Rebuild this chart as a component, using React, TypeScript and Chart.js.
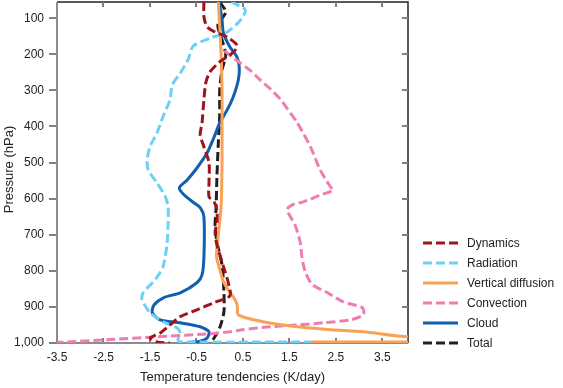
import React, { useEffect, useRef } from 'react';
import { Chart, registerables } from 'chart.js';

Chart.register(...registerables);

const FONT = '"Liberation Sans", Arial, Helvetica, sans-serif';

const xTickValues = [-3.5, -2.5, -1.5, -0.5, 0.5, 1.5, 2.5, 3.5];
const pTickValues = [100, 200, 300, 400, 500, 600, 700, 800, 900, 1000];

const seriesNames = ['Dynamics', 'Radiation', 'Vertical diffusion', 'Convection', 'Cloud', 'Total'];

const dynamicsX = [-0.34, -0.34, -0.27, -0.1, 0.16, 0.35, 0.37, 0.22, 0.0, -0.21, -0.3, -0.34, -0.38, -0.42, -0.34, -0.23, -0.23, -0.23, -0.12, -0.06, -0.06, -0.1, -0.06, 0.09, 0.18, 0.22, -0.12, -0.49, -0.85, -1.07, -1.28, -1.5, -1.35, -1.07];
const dynamicsP = [55, 96, 124, 138, 152, 171, 182, 202, 221, 249, 279, 326, 390, 423, 456, 501, 556, 595, 609, 631, 667, 692, 728, 792, 831, 869, 888, 908, 927, 950, 972, 986, 997, 1000];

const radiationX = [0.25, 0.55, 0.45, 0.16, -0.2, -0.57, -0.68, -0.85, -1.02, -1.07, -1.22, -1.35, -1.5, -1.56, -1.54, -1.35, -1.17, -1.11, -1.11, -1.13, -1.22, -1.39, -1.65, -1.67, -1.5, -1.22, -0.92, -0.85, -0.9, -0.85, 1.95];
const radiationP = [55, 77, 105, 138, 155, 177, 215, 252, 285, 326, 373, 418, 456, 492, 520, 556, 595, 623, 667, 722, 789, 825, 861, 880, 916, 941, 958, 972, 991, 997, 997];

const diffusionX = [-0.03, -0.01, 0.03, 0.05, 0.05, 0.05, 0.03, -0.03, -0.07, 0.0, 0.08, 0.18, 0.33, 0.38, 0.4, 0.93, 1.67, 2.38, 3.09, 4.06, 6, null, 6, 1.95];
const diffusionP = [55, 100, 200, 300, 400, 500, 620, 700, 760, 795, 830, 852, 880, 897, 922, 941, 955, 963, 969, 983, 990, null, 997, 997];

const convectionX = [0.1, 0.44, 0.66, 0.87, 1.09, 1.3, 1.47, 1.67, 1.95, 2.16, 2.38, 2.44, 2.16, 1.8, 1.56, 1.45, 1.62, 1.73, 1.77, 1.84, 1.99, 2.31, 2.66, 3.07, 3.09, 2.81, 2.23, 1.67, 1.09, 0.5, 0.22, -0.27, -1.35, -2.42, -3.35, -3.5];
const convectionP = [190, 224, 245, 271, 296, 324, 354, 390, 456, 520, 567, 577, 590, 609, 617, 631, 673, 720, 764, 803, 838, 860, 886, 902, 922, 936, 944, 950, 955, 963, 969, 975, 983, 991, 998, 998];

const cloudX = [-0.01, 0.05, 0.08, 0.22, 0.37, 0.42, 0.4, 0.29, 0.16, 0.0, -0.12, -0.27, -0.49, -0.7, -0.87, -0.77, -0.55, -0.42, -0.34, -0.34, -0.38, -0.49, -0.85, -1.2, -1.41, -1.45, -1.28, -0.85, -0.42, -0.23, -0.27, -0.42, -0.64];
const cloudP = [55, 105, 141, 180, 207, 235, 271, 318, 354, 390, 429, 473, 515, 548, 570, 589, 612, 625, 650, 763, 811, 833, 861, 874, 894, 916, 936, 944, 955, 969, 986, 995, 998];

const totalX = [0.0, 0.13, -0.04, 0.05, 0.13, 0.05, 0.0, 0.0, -0.03, -0.06, -0.08, -0.1, -0.06, 0.05, 0.09, 0.09, 0.0, -0.12, -0.21];
const totalP = [55, 83, 119, 160, 202, 243, 299, 368, 445, 540, 631, 673, 720, 784, 858, 914, 958, 986, 1000];

const toPoints = (xs: (number | null)[], ps: (number | null)[]) =>
  xs.map((x, i) => ({ x: x === null ? NaN : x, y: ps[i] === null ? NaN : (ps[i] as number) }));

const DASH = [9, 4];
const Y_TITLE = 'Pressure (hPa)';

const framePlugin = {
  id: 'frame',
  beforeDatasetsDraw(chart: any) {
    const { ctx, chartArea } = chart;
    const { left, right, top, bottom } = chartArea;
    const xs = chart.scales.x;
    const ys = chart.scales.y;
    ctx.save();
    ctx.setLineDash([]);
    ctx.strokeStyle = '#222';
    ctx.lineWidth = 1.5;
    ctx.beginPath();
    ctx.moveTo(left, top);
    ctx.lineTo(right, top);
    ctx.lineTo(right, bottom);
    ctx.stroke();
    ctx.strokeStyle = '#808080';
    ctx.lineWidth = 2;
    ctx.beginPath();
    xTickValues.forEach((v) => {
      const px = Math.round(xs.getPixelForValue(v));
      ctx.moveTo(px, top);
      ctx.lineTo(px, top + 5);
      ctx.moveTo(px, bottom);
      ctx.lineTo(px, bottom - 5);
    });
    pTickValues.forEach((v) => {
      const py = Math.round(ys.getPixelForValue(v));
      ctx.moveTo(left - 8, py);
      ctx.lineTo(left, py);
      ctx.moveTo(right, py);
      ctx.lineTo(right - 6, py);
    });
    ctx.stroke();
    ctx.strokeStyle = '#8c8c8c';
    ctx.lineWidth = 2;
    ctx.beginPath();
    ctx.moveTo(left, top);
    ctx.lineTo(left, bottom);
    ctx.lineTo(right, bottom);
    ctx.stroke();
    ctx.translate(9, (top + bottom) / 2 - 3);
    ctx.rotate(-Math.PI / 2);
    ctx.fillStyle = '#222';
    ctx.font = `13px ${FONT}`;
    ctx.textAlign = 'center';
    ctx.textBaseline = 'middle';
    ctx.fillText(Y_TITLE, 0, 0);
    ctx.restore();
  },
  afterDraw(chart: any) {
    const { ctx, chartArea } = chart;
    ctx.save();
    chart.data.datasets.forEach((ds: any, i: number) => {
      const y = 243 + i * 20;
      const x0 = chartArea.right + 15;
      ctx.strokeStyle = ds.borderColor;
      ctx.lineWidth = 3;
      ctx.setLineDash(ds.borderDash || []);
      ctx.beginPath();
      ctx.moveTo(x0, y);
      ctx.lineTo(x0 + 35, y);
      ctx.stroke();
      ctx.setLineDash([]);
      ctx.fillStyle = '#222';
      ctx.font = `12px ${FONT}`;
      ctx.textBaseline = 'middle';
      ctx.textAlign = 'left';
      ctx.fillText(ds.label, x0 + 44, y + 0.5);
    });
    ctx.restore();
  },
};

export default function App() {
  const canvasRef = useRef<HTMLCanvasElement | null>(null);

  useEffect(() => {
    if (!canvasRef.current) return;
    const colors = ['#a3111b', '#6fd0f6', '#f9a256', '#ef7db3', '#1160b0', '#231f20'];
    const dashes = [DASH, DASH, [], DASH, [], DASH];
    const sources: [(number | null)[], (number | null)[]][] = [
      [dynamicsX, dynamicsP],
      [radiationX, radiationP],
      [diffusionX, diffusionP],
      [convectionX, convectionP],
      [cloudX, cloudP],
      [totalX, totalP],
    ];
    const datasets = sources.map(([xs, ps], i) => ({
      label: seriesNames[i],
      data: toPoints(xs, ps),
      borderColor: colors[i],
      backgroundColor: colors[i],
      borderWidth: 3,
      borderDash: dashes[i],
      pointRadius: 0,
      pointHoverRadius: 0,
      tension: 0.25,
      fill: false,
      spanGaps: false,
    }));

    const chart = new Chart(canvasRef.current, {
      type: 'line',
      data: { datasets },
      plugins: [framePlugin],
      options: {
        responsive: false,
        animation: false,
        events: [],
        layout: { autoPadding: false, padding: { top: 2, right: 155, left: 0, bottom: 0 } },
        plugins: {
          legend: { display: false },
          tooltip: { enabled: false },
        },
        scales: {
          x: {
            type: 'linear',
            min: -3.5,
            max: 4.05,
            grid: { display: false, drawTicks: false, tickLength: 0 },
            border: { display: false },
            afterBuildTicks: (scale: any) => {
              scale.ticks = xTickValues.map((v) => ({ value: v }));
            },
            afterFit: (scale: any) => {
              scale.height = 45;
              scale.paddingLeft = 0;
              scale.paddingRight = 0;
              scale.paddingTop = 0;
              scale.paddingBottom = 0;
            },
            ticks: {
              autoSkip: false,
              maxRotation: 0,
              padding: 7,
              color: '#222',
              font: { family: FONT, size: 12 },
              callback: (v: any) => Number(v).toFixed(1),
            },
            title: {
              display: true,
              text: 'Temperature tendencies (K/day)',
              color: '#222',
              font: { family: FONT, size: 13 },
              padding: { top: 4, bottom: 3 },
            },
          },
          y: {
            type: 'linear',
            reverse: true,
            min: 55,
            max: 1000,
            grid: { display: false, drawTicks: false, tickLength: 0 },
            border: { display: false },
            afterBuildTicks: (scale: any) => {
              scale.ticks = pTickValues.map((v) => ({ value: v }));
            },
            afterFit: (scale: any) => {
              scale.width = 57;
              scale.paddingLeft = 0;
              scale.paddingRight = 0;
              scale.paddingTop = 0;
              scale.paddingBottom = 0;
            },
            ticks: {
              autoSkip: false,
              padding: 13,
              color: '#222',
              font: { family: FONT, size: 12 },
              callback: (v: any) => Number(v).toLocaleString('en-US'),
            },
            title: { display: false },
          },
        },
      },
    });
    return () => chart.destroy();
  }, []);

  return (
    <div style={{ position: 'absolute', left: 0, top: 0, width: 563, height: 388, background: '#fff' }}>
      <canvas ref={canvasRef} width={563} height={388} style={{ width: 563, height: 388, display: 'block' }} />
    </div>
  );
}
